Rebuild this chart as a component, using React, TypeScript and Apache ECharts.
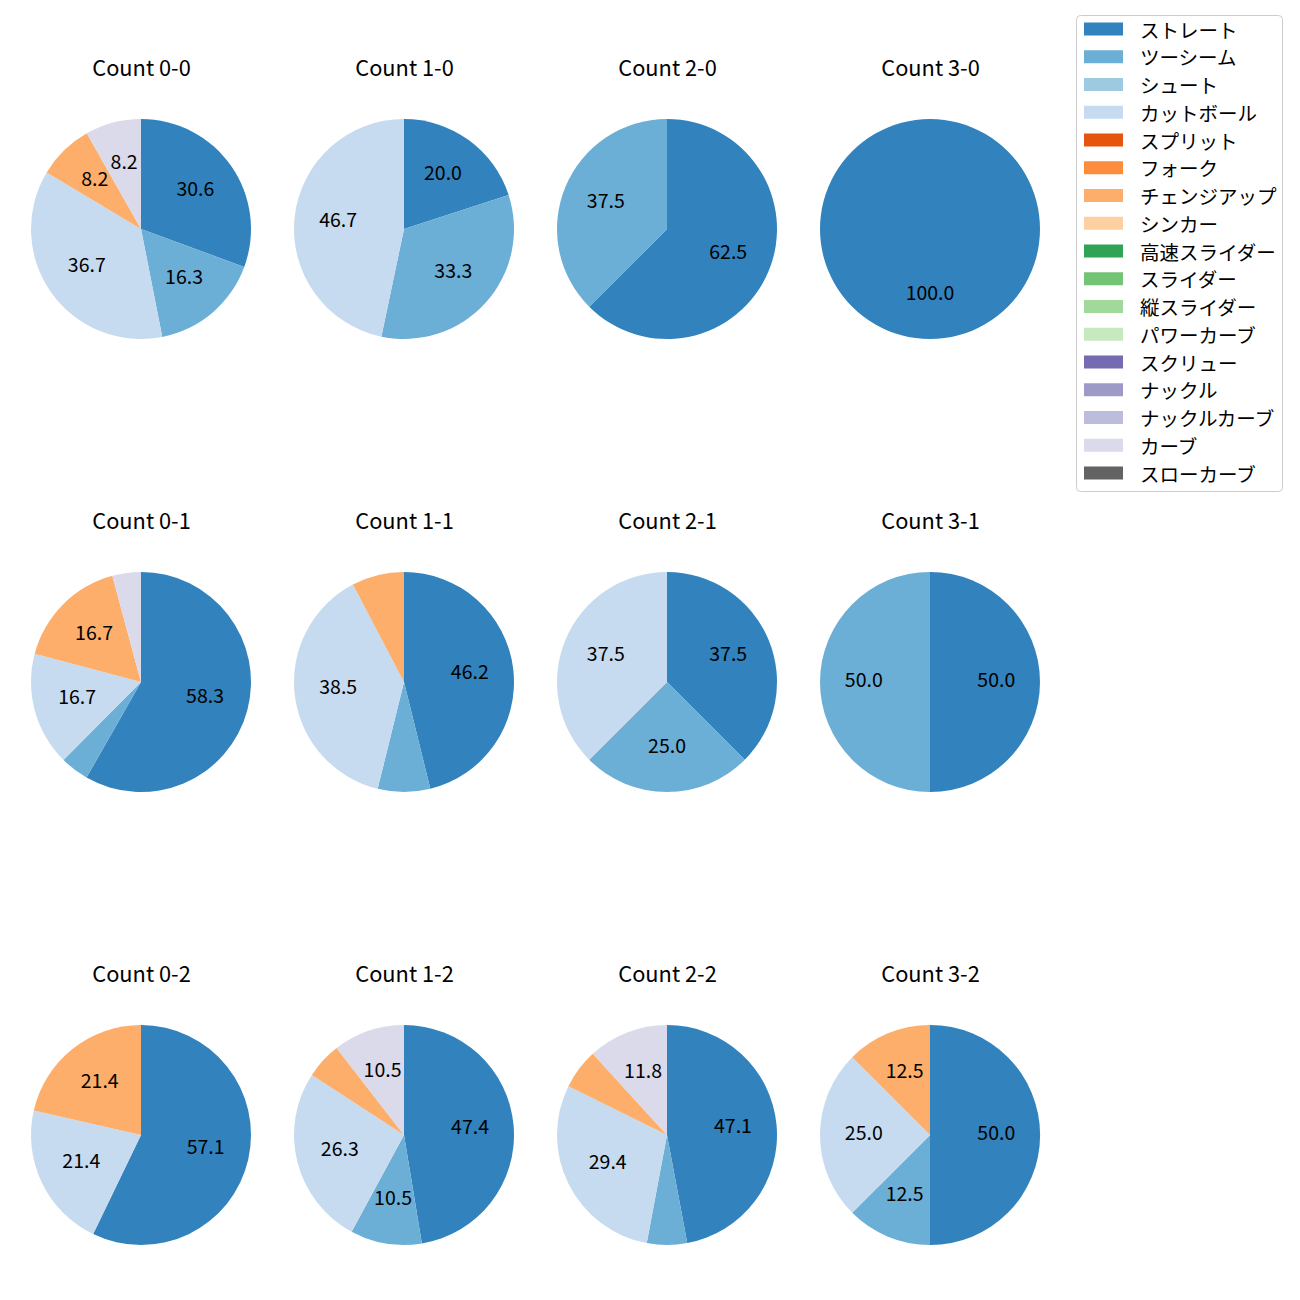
import React, { useEffect, useRef } from "react";
import * as echarts from "echarts";

const pitchNames = [
  "ストレート", "ツーシーム", "シュート", "カットボール", "スプリット", "フォーク",
  "チェンジアップ", "シンカー", "高速スライダー", "スライダー", "縦スライダー",
  "パワーカーブ", "スクリュー", "ナックル", "ナックルカーブ", "カーブ", "スローカーブ",
];
const pitchColors = [
  "#3182bd", "#6baed6", "#9ecae1", "#c6dbef", "#e6550d", "#fd8d3c",
  "#fdae6b", "#fdd0a2", "#31a354", "#74c476", "#a1d99b", "#c7e9c0",
  "#756bb1", "#9e9ac8", "#bcbddc", "#dadaeb", "#636363",
];

const countTitles = [
  "Count 0-0", "Count 1-0", "Count 2-0", "Count 3-0",
  "Count 0-1", "Count 1-1", "Count 2-1", "Count 3-1",
  "Count 0-2", "Count 1-2", "Count 2-2", "Count 3-2",
];
// percentage of each pitch type per count
const count00 = { ストレート: 30.6, ツーシーム: 16.3, カットボール: 36.7, チェンジアップ: 8.2, カーブ: 8.2 };
const count10 = { ストレート: 20.0, ツーシーム: 33.3, カットボール: 46.7 };
const count20 = { ストレート: 62.5, ツーシーム: 37.5 };
const count30 = { ストレート: 100.0 };
const count01 = { ストレート: 58.3, ツーシーム: 4.2, カットボール: 16.7, チェンジアップ: 16.7, カーブ: 4.2 };
const count11 = { ストレート: 46.2, ツーシーム: 7.7, カットボール: 38.5, チェンジアップ: 7.7 };
const count21 = { ストレート: 37.5, ツーシーム: 25.0, カットボール: 37.5 };
const count31 = { ストレート: 50.0, ツーシーム: 50.0 };
const count02 = { ストレート: 57.1, カットボール: 21.4, チェンジアップ: 21.4 };
const count12 = { ストレート: 47.4, ツーシーム: 10.5, カットボール: 26.3, チェンジアップ: 5.3, カーブ: 10.5 };
const count22 = { ストレート: 47.1, ツーシーム: 5.9, カットボール: 29.4, チェンジアップ: 5.9, カーブ: 11.8 };
const count32 = { ストレート: 50.0, ツーシーム: 12.5, カットボール: 25.0, チェンジアップ: 12.5 };

const countData: Record<string, number>[] = [
  count00, count10, count20, count30,
  count01, count11, count21, count31,
  count02, count12, count22, count32,
];

const FONT = "Noto Sans CJK JP";

export default function App() {
  const ref = useRef<HTMLDivElement>(null);
  useEffect(() => {
    if (!ref.current) return;
    const chart = echarts.init(ref.current, null, { renderer: "svg" });
    const colX = [141, 404, 667, 930];
    const rowY = [229, 682, 1135];
    const R = 110;
    const series: any[] = [];
    const titles: any[] = [];
    countData.forEach((d, i) => {
      const cx = colX[i % 4];
      const cy = rowY[Math.floor(i / 4)];
      const data = pitchNames
        .map((n, k) => ({ name: n, value: d[n] || 0, itemStyle: { color: pitchColors[k] } }))
        .filter((x) => x.value > 0);
      series.push({
        type: "pie",
        center: [cx, cy],
        radius: [0, R],
        startAngle: 90,
        clockwise: true,
        silent: true,
        label: { show: false },
        labelLine: { show: false },
        itemStyle: { borderWidth: 0 },
        emphasis: { disabled: true },
        data,
      });
      // transparent twin used only to place the percentage labels
      series.push({
        type: "pie",
        center: [cx, cy - 4],
        radius: [R * 0.15, R],
        startAngle: 90,
        clockwise: true,
        silent: true,
        label: {
          show: true,
          position: "inside",
          fontFamily: FONT,
          fontSize: 19.5,
          color: "#000",
          formatter: (p: any) => (p.value >= 8 ? p.value.toFixed(1) : ""),
        },
        labelLine: { show: false },
        itemStyle: { color: "rgba(0,0,0,0)", borderWidth: 0 },
        emphasis: { disabled: true },
        data: data.map((x) => ({ name: x.name, value: x.value })),
      });
      titles.push({
        text: countTitles[i],
        left: cx + 0.5,
        top: cy - 173,
        padding: 0,
        textAlign: "center",
        textStyle: { fontFamily: FONT, fontSize: 21.8, fontWeight: "normal", color: "#000" },
      });
    });
    // invisible series feeding the legend with every pitch type
    series.push({
      type: "pie",
      center: [-100, -100],
      radius: [0, 1],
      silent: true,
      label: { show: false },
      data: pitchNames.map((n, k) => ({ name: n, value: 1, itemStyle: { color: pitchColors[k] } })),
    });
    chart.setOption({
      animation: false,
      backgroundColor: "#fff",
      title: titles,
      legend: {
        orient: "vertical",
        left: 1084,
        top: 19,
        padding: 0,
        itemWidth: 39,
        itemHeight: 13,
        itemGap: 7.75,
        icon: "rect",
        selectedMode: false,
        data: pitchNames,
        textStyle: { fontFamily: FONT, fontSize: 19.5, color: "#000", lineHeight: 20, padding: [0, 0, 0, 12] },
      },
      graphic: [
        {
          type: "rect",
          shape: { x: 1076.5, y: 15.5, width: 206, height: 476, r: 4 },
          style: { fill: "rgba(255,255,255,0.8)", stroke: "#cccccc", lineWidth: 1 },
          z: -1,
        },
      ],
      series,
    });
    return () => chart.dispose();
  }, []);
  return (
    <div
      ref={ref}
      style={{ position: "absolute", left: 0, top: 0, width: 1300, height: 1300 }}
    />
  );
}
